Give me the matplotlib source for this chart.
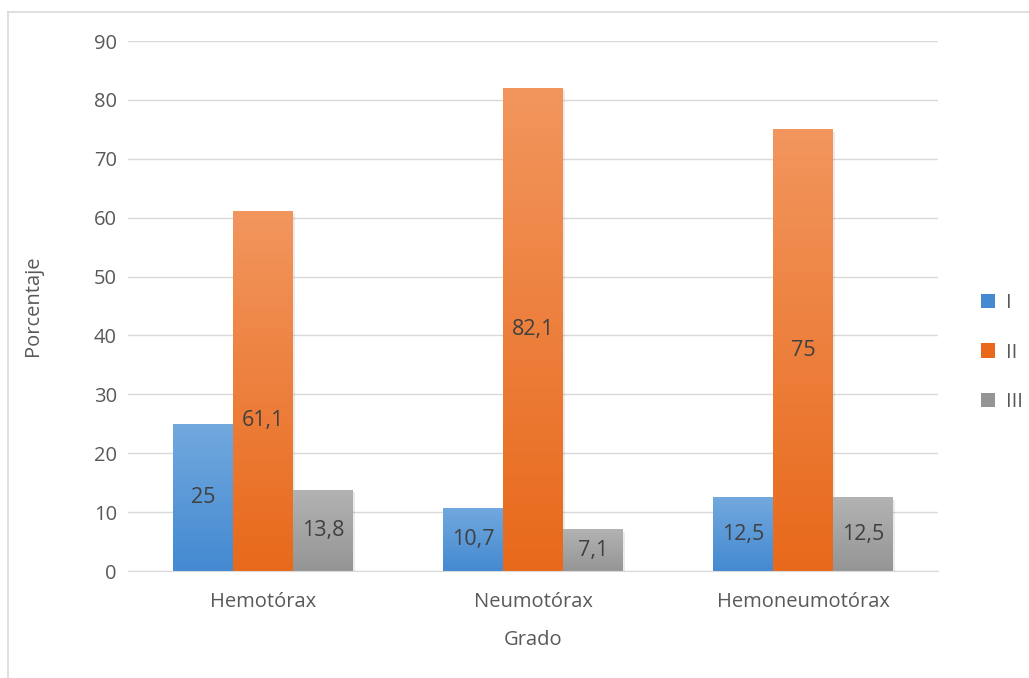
import numpy as np
import matplotlib.pyplot as plt
from matplotlib.colors import LinearSegmentedColormap
from matplotlib.lines import Line2D
from matplotlib.patches import Patch

plt.rcParams['font.family'] = ['Open Sans', 'DejaVu Sans']

# Data
categorias = ['Hemotórax', 'Neumotórax', 'Hemoneumotórax']
series = ['I', 'II', 'III']
grado_I = [25, 10.7, 12.5]
grado_II = [61.1, 82.1, 75]
grado_III = [13.8, 7.1, 12.5]
valores = [grado_I, grado_II, grado_III]

# top / bottom colours of each gradient fill
colores = [('#72a9de', '#4489d1'), ('#f2965e', '#e8691b'), ('#b3b3b3', '#959595')]

texto = '#595959'
fs = 14.5
fig = plt.figure(figsize=(10.29, 6.78), dpi=100)
ax = fig.add_axes([0.1244, 0.1578, 0.7872, 0.7817])

x = np.arange(len(categorias))
ancho = 0.222
ax.set_xlim(-0.5, len(categorias) - 0.5)
ax.set_ylim(0, 90)

grad = np.linspace(1, 0, 256).reshape(-1, 1)
for i, (serie, vals) in enumerate(zip(series, valores)):
    cmap = LinearSegmentedColormap.from_list(serie, [colores[i][1], colores[i][0]])
    for j, v in enumerate(vals):
        xc = x[j] + (i - 1) * ancho
        bar = ax.bar(xc, v, width=ancho, color='none', zorder=3)[0]
        # soft shadow to the right
        ax.bar(xc + 0.006, v, width=ancho, bottom=-0.4, color='#000000', alpha=0.08, zorder=2)
        im = ax.imshow(grad, cmap=cmap, aspect='auto', zorder=3,
                       extent=[xc - ancho / 2, xc + ancho / 2, 0, v], vmin=0, vmax=1)
        im.set_clip_path(bar)
        etiqueta = f'{v:g}'.replace('.', ',')
        ypos = v / 2
        if serie == 'II' and j == 0:
            ypos = 25.5
        ax.text(xc, ypos, etiqueta, ha='center', va='center', fontsize=15.5,
                color='#404040', zorder=4)

ax.set_yticks(range(0, 91, 10))
ax.set_xticks(x)
ax.set_xticklabels(categorias)
ax.grid(axis='y', color='#d9d9d9', linewidth=1, zorder=0)
ax.set_axisbelow(True)
for s in ['top', 'right', 'left']:
    ax.spines[s].set_visible(False)
ax.spines['bottom'].set_color('#d9d9d9')
ax.spines['bottom'].set_zorder(5)
ax.tick_params(length=0, labelsize=fs, labelcolor=texto)
ax.tick_params(axis='y', pad=8)
ax.tick_params(axis='x', pad=15)

ax.set_ylabel('Porcentaje', fontsize=fs, color=texto)
ax.yaxis.set_label_coords(-0.117, 0.5)
ax.set_xlabel('Grado', fontsize=fs, color=texto)
ax.xaxis.set_label_coords(0.5, -0.13)
ax.xaxis.label.set_va('center')
ax.yaxis.label.set_va('center')

handles = [Patch(facecolor=c[1], edgecolor='none') for c in colores]
fig.legend(handles, series, loc='center left', bbox_to_anchor=(0.936, 0.48),
           frameon=False, fontsize=fs, labelcolor=texto, handlelength=0.7,
           handleheight=0.7, handletextpad=0.55, labelspacing=1.45)

# outer chart frame
fig.add_artist(Line2D([8 / 1029, 8 / 1029], [0, 1 - 12 / 678], color='#d9d9d9', lw=1.2))
fig.add_artist(Line2D([8 / 1029, 1], [1 - 12 / 678, 1 - 12 / 678], color='#d9d9d9', lw=1.2))

fig.savefig('out.png', dpi=100)
